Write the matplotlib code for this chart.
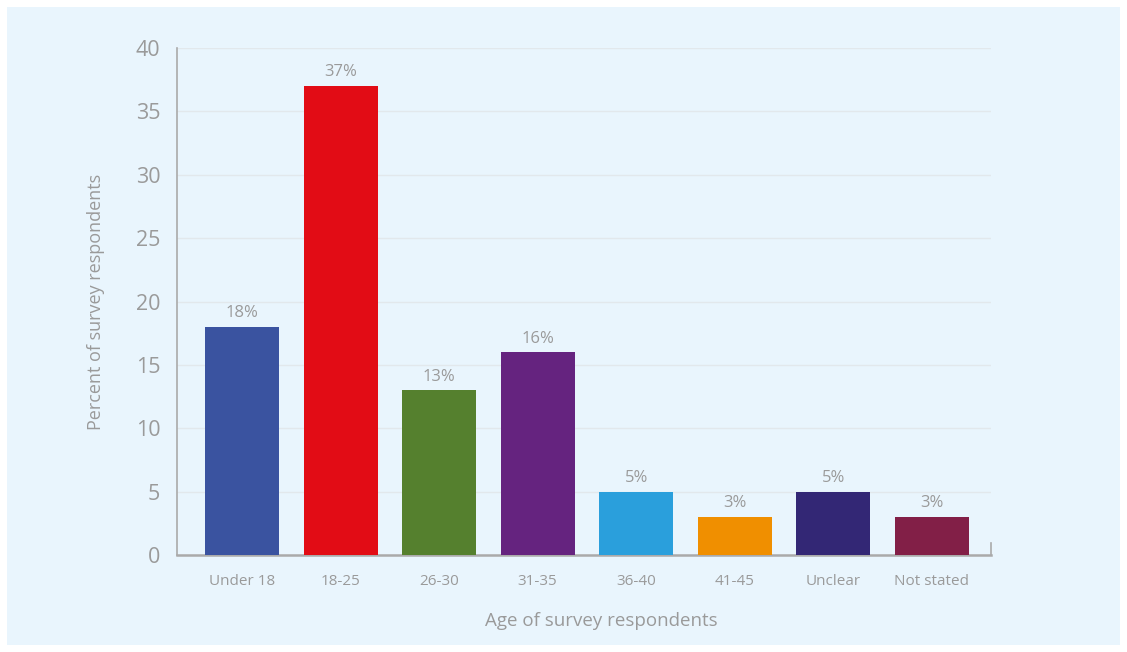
import matplotlib.pyplot as plt
from matplotlib.patches import Rectangle

plt.rcParams['font.family'] = ['Open Sans', 'DejaVu Sans']

# Age breakdown of respondents (percent)
categories = ['Under 18', '18-25', '26-30', '31-35', '36-40', '41-45', 'Unclear', 'Not stated']
percent = [18, 37, 13, 16, 5, 3, 5, 3]
colors = ['#3A53A0', '#E20C15', '#55802E', '#65237F', '#2A9FDC', '#F08F00', '#332775', '#821F47']
yticks = [0, 5, 10, 15, 20, 25, 30, 35, 40]

text_grey = '#9a9a9a'

fig = plt.figure(figsize=(11.27, 6.52), dpi=100, facecolor='white')

# light blue panel behind the chart
fig.patches.append(Rectangle((7 / 1127, 7 / 652), 1113 / 1127, 638 / 652,
                             transform=fig.transFigure, facecolor='#E9F5FD',
                             edgecolor='none', zorder=-10))

ax = fig.add_axes([177 / 1127, 1 - 555 / 652, 814 / 1127, 507 / 652])
ax.set_facecolor('none')

x = range(len(categories))
bars = ax.bar(x, percent, width=0.75, color=colors, zorder=3)
ax.bar_label(bars, labels=[f'{v}%' for v in percent], padding=4,
             color=text_grey, fontsize=12)

ax.set_xlim(-0.66, 7.6)
ax.set_ylim(0, 40)
ax.set_yticks(yticks)
ax.set_xticks(list(x))
ax.set_xticklabels(categories)
ax.tick_params(axis='y', length=0, pad=12, labelsize=15.5, labelcolor=text_grey)
ax.tick_params(axis='x', length=0, pad=14, labelsize=11, labelcolor=text_grey)

ax.grid(axis='y', color='#e2e8ec', linewidth=1, zorder=0)
ax.set_axisbelow(True)

ax.spines['top'].set_visible(False)
ax.spines['left'].set_color('#aaaaaa')
ax.spines['left'].set_linewidth(1.2)
ax.spines['bottom'].set_color('#aaaaaa')
ax.spines['bottom'].set_linewidth(1.8)
ax.spines['right'].set_color('#aaaaaa')
ax.spines['right'].set_linewidth(1.2)
ax.spines['right'].set_bounds(0, 0.95)

ax.set_ylabel('Percent of survey respondents', fontsize=13, color=text_grey)
ax.yaxis.set_label_coords(-0.089, 0.5)
ax.set_xlabel('Age of survey respondents', fontsize=13.5, color=text_grey)
ax.xaxis.set_label_coords(0.521, -0.112)

plt.savefig('out.png', dpi=100, facecolor=fig.get_facecolor())
